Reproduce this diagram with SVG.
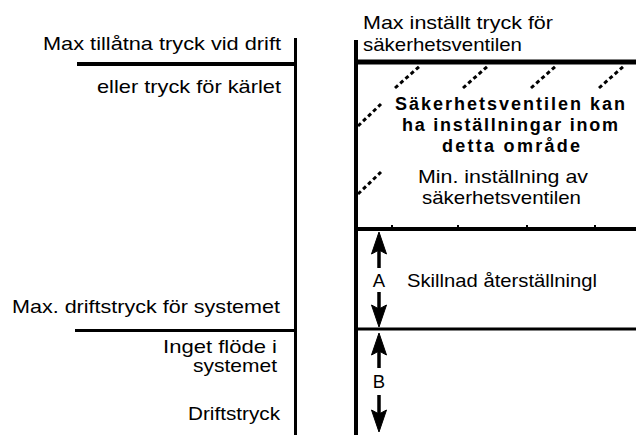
<svg xmlns="http://www.w3.org/2000/svg" width="636" height="435" viewBox="0 0 636 435">
<style>
  .ln { stroke: #000; fill: none; }
  .dash { stroke: #000; stroke-width: 3; stroke-dasharray: 4 3; fill: none; }
  .t { font-family: "Liberation Sans", Arial, sans-serif; font-size: 18.5px; fill: #000; }
  .b { font-family: "Liberation Sans", Arial, sans-serif; font-size: 18px; font-weight: bold; fill: #000; }
  .head { fill: #000; stroke: #000; stroke-width: 1; stroke-linejoin: miter; }
</style>
<rect width="636" height="435" fill="#fff"/>
<g id="scale-left">
  <line class="ln" x1="295.5" y1="38" x2="295.5" y2="435" stroke-width="3"/>
  <line class="ln" x1="77" y1="64" x2="296" y2="64" stroke-width="4"/>
  <line class="ln" x1="75" y1="330.5" x2="296" y2="330.5" stroke-width="3"/>
</g>
<g id="scale-right">
  <line class="ln" x1="356" y1="40" x2="356" y2="435" stroke-width="4"/>
  <line class="ln" x1="354" y1="62" x2="636" y2="62" stroke-width="5"/>
  <line class="ln" x1="354" y1="229" x2="636" y2="229" stroke-width="4"/>
  <line class="ln" x1="354" y1="329" x2="636" y2="329" stroke-width="3"/>
  <rect x="391" y="225" width="2" height="3"/>
  <rect x="457" y="225" width="2" height="3"/>
  <rect x="526" y="225" width="2" height="3"/>
  <rect x="594" y="225" width="2" height="3"/>
</g>
<g id="range-hatch">
  <line class="dash" x1="395" y1="88" x2="421" y2="65"/>
  <line class="dash" x1="463" y1="88" x2="489" y2="65"/>
  <line class="dash" x1="531" y1="88" x2="557" y2="65"/>
  <line class="dash" x1="599" y1="88" x2="625" y2="65"/>
  <line class="dash" x1="358" y1="126" x2="381" y2="104"/>
  <line class="dash" x1="358" y1="194" x2="381" y2="172"/>
</g>
<g id="labels-left">
  <text class="t" x="43" y="50" textLength="238" lengthAdjust="spacingAndGlyphs">Max tillåtna tryck vid drift</text>
  <text class="t" x="97" y="93" textLength="184" lengthAdjust="spacingAndGlyphs">eller tryck för kärlet</text>
  <text class="t" x="12" y="313" textLength="268" lengthAdjust="spacingAndGlyphs">Max. driftstryck för systemet</text>
  <text class="t" x="163" y="353" textLength="114" lengthAdjust="spacingAndGlyphs">Inget flöde i</text>
  <text class="t" x="193" y="372" textLength="84" lengthAdjust="spacingAndGlyphs">systemet</text>
  <text class="t" x="188" y="420" textLength="92" lengthAdjust="spacingAndGlyphs">Driftstryck</text>
</g>
<g id="labels-right">
  <text class="t" x="363" y="29" textLength="190" lengthAdjust="spacingAndGlyphs">Max inställt tryck för</text>
  <text class="t" x="363" y="51" textLength="159" lengthAdjust="spacingAndGlyphs">säkerhetsventilen</text>
  <text class="b" x="395" y="110" textLength="230" lengthAdjust="spacing">Säkerhetsventilen kan</text>
  <text class="b" x="402" y="131" textLength="216" lengthAdjust="spacing">ha inställningar inom</text>
  <text class="b" x="442" y="152" textLength="138" lengthAdjust="spacing">detta område</text>
  <text class="t" x="418" y="183" textLength="170" lengthAdjust="spacingAndGlyphs">Min. inställning av</text>
  <text class="t" x="422" y="204" textLength="159" lengthAdjust="spacingAndGlyphs">säkerhetsventilen</text>
  <text class="t" x="407" y="287" textLength="190" lengthAdjust="spacingAndGlyphs">Skillnad återställningl</text>
</g>
<g id="connectors">
  <line class="ln" x1="379" y1="248" x2="379" y2="268" stroke-width="3.5"/>
  <path class="head" d="M379,232 L386.5,254 L379,250 L371.5,254 Z"/>
  <line class="ln" x1="379" y1="292" x2="379" y2="312" stroke-width="3.5"/>
  <path class="head" d="M379,327 L386.5,305 L379,309 L371.5,305 Z"/>
  <line class="ln" x1="379" y1="349" x2="379" y2="368" stroke-width="3.5"/>
  <path class="head" d="M379,333 L386.5,355 L379,351 L371.5,355 Z"/>
  <line class="ln" x1="379" y1="395" x2="379" y2="416" stroke-width="3.5"/>
  <path class="head" d="M379,432 L386.5,410 L379,414 L371.5,410 Z"/>
  <text class="t" x="379" y="287" text-anchor="middle">A</text>
  <text class="t" x="379" y="388" text-anchor="middle">B</text>
</g>
</svg>
